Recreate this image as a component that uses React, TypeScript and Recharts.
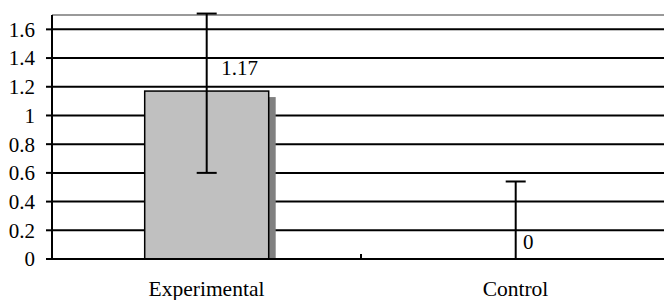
import React from 'react';
import { BarChart, Bar, XAxis, YAxis, CartesianGrid, ErrorBar, LabelList, ReferenceLine } from 'recharts';

const categories = ['Experimental', 'Control'];
const means = [1.17, 0];
const errLow = [0.57, 0];
const errHigh = [0.54, 0.54];
const dataLabels = ['1.17', '0'];
const yTicks = [0, 0.2, 0.4, 0.6, 0.8, 1, 1.2, 1.4, 1.6];
const yMax = 1.7;

const data = categories.map((c, i) => ({ name: c, value: means[i], err: [errLow[i], errHigh[i]] }));

const FONT = '"Liberation Serif", "Tinos", "Times New Roman", Times, "DejaVu Serif", serif';
const labelNudge = [
  { dx: 33, dy: -16 },
  { dx: 12.5, dy: -10 },
];

const BarShape = (props: any) => {
  const { x, y, width, height } = props;
  if (!height || height <= 0) return <g />;
  return (
    <g>
      <rect x={x + 7} y={y + 6} width={width} height={Math.max(0, height - 6)} fill="#808080" />
      <rect x={x} y={y} width={width} height={height} fill="#C0C0C0" stroke="#000" strokeWidth={1.5} />
    </g>
  );
};

const renderLabel = (props: any) => {
  const { x, y, width, index } = props;
  const n = labelNudge[index] || { dx: 0, dy: -8 };
  return (
    <text x={x + width / 2 + n.dx} y={y + n.dy} textAnchor="middle" style={{ fontFamily: FONT, fontSize: 21 }} fill="#000">
      {dataLabels[index]}
    </text>
  );
};

const XTick = (props: any) => {
  const { x, y, payload, index } = props;
  const off = payload && typeof payload.offset === 'number' ? payload.offset : 0;
  return (
    <g>
      {index === 0 && off > 0 ? (
        <line x1={x + off} y1={y} x2={x + off} y2={y - 5} stroke="#000" strokeWidth={2} />
      ) : null}
      <text x={x} y={y + 37} textAnchor="middle" style={{ fontFamily: FONT, fontSize: 21.5 }} fill="#000">
        {payload.value}
      </text>
    </g>
  );
};

const YTick = (props: any) => {
  const { x, y, payload } = props;
  return (
    <text x={x} y={y} dy="0.35em" textAnchor="end" style={{ fontFamily: FONT, fontSize: 21 }} fill="#000">
      {String(payload.value)}
    </text>
  );
};

export default function App() {
  return (
    <div style={{ position: 'absolute', left: 0, top: 0, width: 664, height: 300, overflow: 'hidden', background: '#fff', fontFamily: FONT }}>
      <BarChart width={672} height={300} data={data} margin={{ top: 15, right: 2, bottom: 0, left: 0 }} barCategoryGap="30%" style={{ fontFamily: FONT }}>
        <CartesianGrid horizontal vertical={false} stroke="#000" strokeWidth={2} />
        <ReferenceLine y={yMax} stroke="#999" strokeWidth={2} />
        <XAxis
          dataKey="name"
          height={41}
          axisLine={{ stroke: '#000', strokeWidth: 2 }}
          tickLine={false}
          tickSize={0}
          tickMargin={0}
          interval={0}
          tick={<XTick />}
        />
        <YAxis
          width={52}
          domain={[0, yMax]}
          ticks={yTicks}
          interval={0}
          allowDataOverflow
          axisLine={{ stroke: '#000', strokeWidth: 2 }}
          tickLine={{ stroke: '#000', strokeWidth: 2 }}
          tickSize={6}
          tickMargin={11}
          tick={<YTick />}
        />
        <Bar dataKey="value" shape={<BarShape />} isAnimationActive={false}>
          <ErrorBar dataKey="err" width={10} stroke="#000" strokeWidth={2} />
          <LabelList dataKey="value" content={renderLabel} />
        </Bar>
      </BarChart>
    </div>
  );
}
